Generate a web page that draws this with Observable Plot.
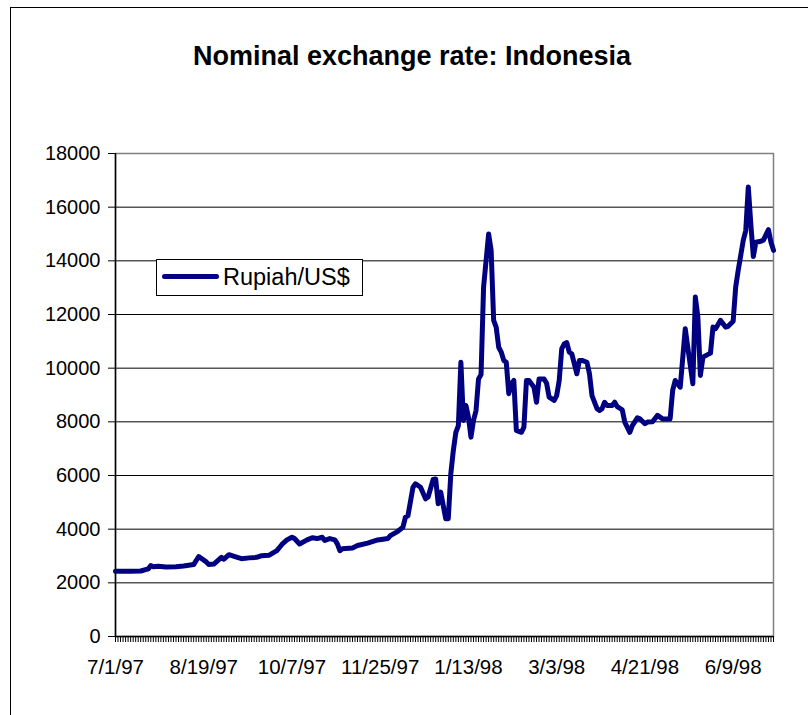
<!DOCTYPE html>
<html>
<head>
<meta charset="utf-8">
<script src="https://cdn.jsdelivr.net/npm/d3@7"></script>
<script src="https://cdn.jsdelivr.net/npm/@observablehq/plot@0.6"></script>
<style>
  html, body { margin: 0; padding: 0; background: #fff; overflow: hidden; }
  #wrap { position: relative; width: 808px; height: 715px; overflow: hidden; font-family: "Liberation Sans", Arial, sans-serif; }
  #area { position: absolute; left: 10px; top: 7px; width: 900px; height: 900px; border-left: 1px solid #000; border-top: 1px solid #000; }
  #title { position: absolute; left: 0; width: 824px; top: 43px; text-align: center; font-size: 27px; line-height: 27px; font-weight: bold; color: #000; white-space: nowrap; }
  #chart { position: absolute; left: 0; top: 0; }
  #legend { position: absolute; left: 156px; top: 259px; width: 205px; height: 35px; border: 1px solid #000; background: #fff; }
  #legend .swatch { position: absolute; left: 5px; top: 14px; width: 57px; height: 5px; border-radius: 2.5px; background: #000080; }
  #legend .label { position: absolute; left: 66px; top: 6px; font-size: 23.5px; line-height: 23px; color: #000; white-space: nowrap; }
</style>
</head>
<body>
<div id="wrap">
  <div id="area"></div>
  <div id="chart"></div>
  <div id="title">Nominal exchange rate: Indonesia</div>
  <div id="legend"><div class="swatch"></div><div class="label">Rupiah/US$</div></div>
</div>
<script>
// ---- data ----
const dates = [
  "1997-07-01","1997-07-09","1997-07-15","1997-07-18","1997-07-21","1997-07-22","1997-07-24","1997-07-29",
  "1997-08-04","1997-08-07","1997-08-13","1997-08-15","1997-08-20","1997-08-21","1997-08-25","1997-08-28","1997-08-29",
  "1997-09-02","1997-09-05","1997-09-09","1997-09-12","1997-09-17","1997-09-19","1997-09-24","1997-09-29",
  "1997-10-01","1997-10-03","1997-10-07","1997-10-08","1997-10-10","1997-10-15","1997-10-17","1997-10-21","1997-10-23","1997-10-24","1997-10-28","1997-10-30","1997-10-31",
  "1997-11-03","1997-11-04","1997-11-10","1997-11-12","1997-11-18","1997-11-24","1997-11-28",
  "1997-12-01","1997-12-04","1997-12-08","1997-12-09","1997-12-10","1997-12-12","1997-12-15","1997-12-17","1997-12-19","1997-12-22","1997-12-24","1997-12-25","1997-12-26","1997-12-29","1997-12-30","1997-12-31",
  "1998-01-01","1998-01-02","1998-01-05","1998-01-06","1998-01-07","1998-01-08","1998-01-09","1998-01-12","1998-01-13","1998-01-14","1998-01-15","1998-01-16","1998-01-19","1998-01-20","1998-01-21","1998-01-23","1998-01-26","1998-01-27","1998-01-28","1998-01-29","1998-01-30",
  "1998-02-02","1998-02-03","1998-02-04","1998-02-05","1998-02-06","1998-02-09","1998-02-11","1998-02-12","1998-02-13","1998-02-16","1998-02-18","1998-02-19","1998-02-20","1998-02-24","1998-02-25","1998-02-26",
  "1998-03-02","1998-03-03","1998-03-04","1998-03-05","1998-03-06","1998-03-09","1998-03-10","1998-03-11","1998-03-13","1998-03-16","1998-03-17","1998-03-19","1998-03-20","1998-03-23","1998-03-25","1998-03-26","1998-03-27","1998-03-30","1998-03-31",
  "1998-04-02","1998-04-03","1998-04-06","1998-04-08","1998-04-09","1998-04-13","1998-04-14","1998-04-16","1998-04-17","1998-04-21","1998-04-22","1998-04-24","1998-04-28","1998-04-30",
  "1998-05-05","1998-05-06","1998-05-07","1998-05-11","1998-05-13","1998-05-14","1998-05-18","1998-05-19","1998-05-20","1998-05-21","1998-05-22","1998-05-27","1998-05-28","1998-05-29",
  "1998-06-02","1998-06-04","1998-06-05","1998-06-09","1998-06-10","1998-06-11","1998-06-15","1998-06-16","1998-06-17","1998-06-18","1998-06-19","1998-06-22","1998-06-24","1998-06-25","1998-06-29","1998-06-30","1998-07-01"
];
const rates = [
  2430,2430,2440,2520,2640,2600,2620,2590,
  2600,2630,2680,2980,2780,2680,2700,2950,2880,
  3050,2960,2900,2930,2950,3010,3030,3200,
  3430,3600,3700,3650,3450,3600,3680,3650,3700,3580,3650,3600,3450,
  3200,3270,3300,3390,3480,3600,3650,
  3760,3920,4070,4450,4500,5560,5690,5560,5130,5200,5850,5870,4950,5380,4880,4390,
  4390,6060,6930,7610,7860,10220,8050,8610,8170,7430,8050,8420,9600,9760,13020,15000,14390,11780,11530,10780,10600,
  10290,10220,9050,9420,9540,7680,7610,7800,9540,9540,9290,8730,9600,9600,9440,8920,
  8800,8980,9540,10720,10910,10950,10600,10530,9790,10290,10290,10220,9790,8980,8490,8420,8490,8730,8610,
  8610,8730,8570,8450,7990,7610,7860,8150,8110,7930,7990,8000,8240,8110,
  8110,9170,9540,9290,11470,10780,9420,12650,11900,9730,10410,10560,11530,11470,
  11780,11530,11560,11750,13020,13640,14760,15130,16750,15380,14160,14690,14730,14770,15160,14690,14390
];
const tickLabels = ["7/1/97","8/19/97","10/7/97","11/25/97","1/13/98","3/3/98","4/21/98","6/9/98"];
const yTicks = [0,2000,4000,6000,8000,10000,12000,14000,16000,18000];
const seriesName = "Rupiah/US$";

// ---- category (weekday) index helpers ----
const start = Date.UTC(1997, 6, 1);
function tradingDay(iso) {
  const t = Date.parse(iso + "T00:00:00Z");
  let n = 0;
  for (let d = start; d < t; d += 864e5) {
    const wd = new Date(d).getUTCDay();
    if (wd !== 0 && wd !== 6) n++;
  }
  return n;
}
function mdyToIso(s) {
  const [m, d, y] = s.split("/").map(Number);
  return `${1900 + y}-${String(m).padStart(2, "0")}-${String(d).padStart(2, "0")}`;
}
const data = dates.map((d, i) => ({i: tradingDay(d), v: rates[i]}));
const lastIdx = tradingDay(dates[dates.length - 1]);
const categoryIdx = d3.range(0, lastIdx + 1);
const labelIdx = tickLabels.map(s => tradingDay(mdyToIso(s)));
const labelOf = new Map(labelIdx.map((k, j) => [k, tickLabels[j]]));

const chart = Plot.plot({
  width: 808,
  height: 715,
  marginLeft: 115,
  marginRight: 35,
  marginTop: 153,
  marginBottom: 79,
  style: {background: "transparent", fontFamily: "'Liberation Sans', Arial, sans-serif", color: "#000", overflow: "visible"},
  x: {domain: [0, lastIdx]},
  y: {domain: [0, 18000]},
  marks: [
    Plot.gridY(yTicks.filter(d => d > 0 && d < 18000), {stroke: "#000", strokeOpacity: 1, strokeWidth: 1}),
    Plot.frame({stroke: "#808080", strokeWidth: 1.5}),
    Plot.ruleY([0], {stroke: "#000", strokeWidth: 1.5}),
    Plot.ruleX([0], {stroke: "#000", strokeWidth: 1.5}),
    Plot.axisY(yTicks, {anchor: "left", tickSize: 7, tickPadding: 8, fontSize: 20, tickFormat: d3.format("d"), label: null}),
    Plot.axisX(categoryIdx, {anchor: "bottom", tickSize: 6, tickFormat: () => "", label: null, strokeWidth: 1}),
    Plot.axisX(labelIdx, {anchor: "bottom", tickSize: 0, tickPadding: 23, fontSize: 20.5, tickFormat: d => labelOf.get(d), label: null}),
    Plot.line(data, {x: "i", y: "v", stroke: "#000080", strokeWidth: 5, strokeLinejoin: "round", strokeLinecap: "round", title: () => seriesName})
  ]
});
document.getElementById("chart").appendChild(chart);
</script>
</body>
</html>
